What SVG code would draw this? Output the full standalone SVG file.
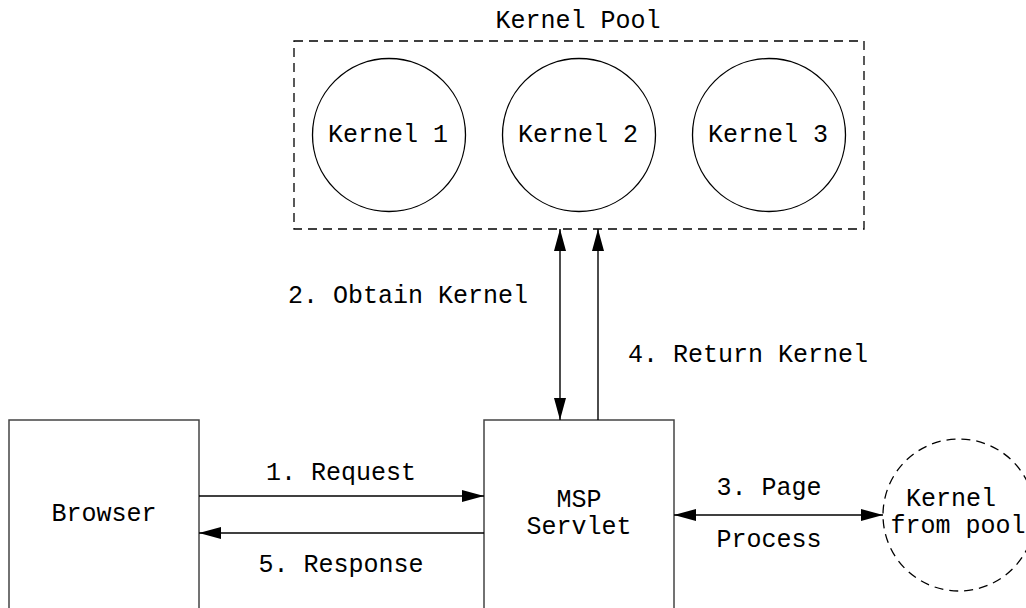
<svg xmlns="http://www.w3.org/2000/svg" width="1026" height="608" viewBox="0 0 1026 608">
<style>
text{font-family:"Liberation Mono","Courier New",monospace;font-size:25px;fill:#000;text-anchor:middle}
.box{fill:none;stroke:#444;stroke-width:1.5}
.kc{fill:none;stroke:#000;stroke-width:1.3}
.dash{fill:none;stroke:#000;stroke-width:1.3;stroke-dasharray:9,6}
.ln{fill:none;stroke:#000;stroke-width:1.4}
</style>
<defs>
<marker id="ah" markerUnits="userSpaceOnUse" markerWidth="22" markerHeight="12" refX="22" refY="6" orient="auto-start-reverse">
<path d="M0,0 L22,6 L0,12 z" fill="#000"/>
</marker>
</defs>
<rect width="1026" height="608" fill="#fff"/>
<g id="kernel-pool">
<rect class="dash" x="294" y="41" width="570" height="188"/>
<text x="578" y="28">Kernel Pool</text>
</g>
<g id="kernel1">
<circle class="kc" cx="389" cy="135" r="76.5"/>
<text x="388" y="142">Kernel 1</text>
</g>
<g id="kernel2">
<circle class="kc" cx="579" cy="135" r="76.5"/>
<text x="578" y="142">Kernel 2</text>
</g>
<g id="kernel3">
<circle class="kc" cx="769" cy="135" r="76.5"/>
<text x="768" y="142">Kernel 3</text>
</g>
<g id="browser">
<rect class="box" x="9" y="420" width="190" height="210"/>
<text x="104" y="521">Browser</text>
</g>
<g id="msp-servlet">
<rect class="box" x="484" y="420" width="190" height="210"/>
<text x="579" y="507">MSP</text>
<text x="579" y="534">Servlet</text>
</g>
<g id="kernel-from-pool">
<circle class="dash" cx="959" cy="515" r="76" stroke-dasharray="7,5"/>
<text x="951" y="506">Kernel</text>
<text x="958" y="533">from pool</text>
</g>
<g id="connectors">
<line class="ln" x1="560" y1="229" x2="560" y2="420" stroke-width="2" marker-start="url(#ah)" marker-end="url(#ah)"/>
<line class="ln" x1="598" y1="420" x2="598" y2="229" marker-end="url(#ah)"/>
<line class="ln" x1="199" y1="496" x2="484" y2="496" marker-end="url(#ah)"/>
<line class="ln" x1="484" y1="533" x2="199" y2="533" marker-end="url(#ah)"/>
<line class="ln" x1="674" y1="515" x2="883" y2="515" marker-start="url(#ah)" marker-end="url(#ah)"/>
<text x="408" y="303">2. Obtain Kernel</text>
<text x="748" y="362">4. Return Kernel</text>
<text x="341" y="480">1. Request</text>
<text x="341" y="572">5. Response</text>
<text x="769" y="495">3. Page</text>
<text x="769" y="547">Process</text>
</g>
</svg>
